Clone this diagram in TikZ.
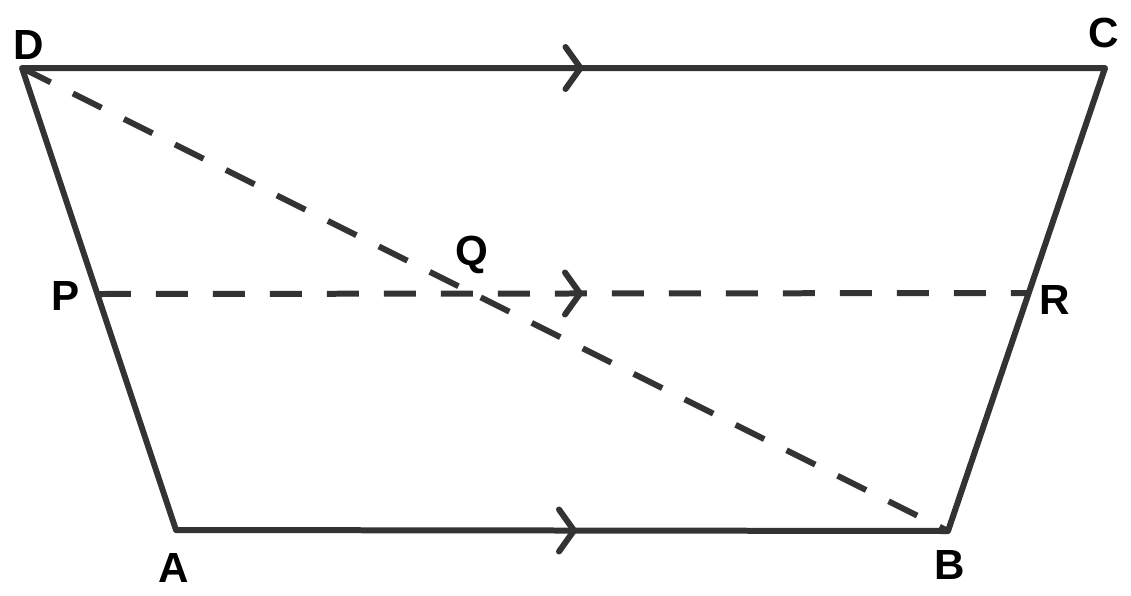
\documentclass[tikz,border=0pt]{standalone}
\usepackage{fontspec}
\setmainfont{Liberation Sans}
\usepackage{tikz}
\usetikzlibrary{calc}
\definecolor{edge}{HTML}{333333}

\begin{document}
\begin{tikzpicture}[x=0.02cm,y=-0.02cm]
\tikzstyle{every node}+=[inner sep=0pt]
\tikzstyle{side}=[edge,line width=0.12cm,line cap=round,line join=round]
\tikzstyle{dashside}=[side,line cap=butt,dash pattern=on 0.64cm off 0.5cm]
\tikzstyle{lbl}=[font=\fontsize{24}{24}\selectfont\bfseries]
\useasboundingbox (0,0) rectangle (1131,595);
% corners
\coordinate (D) at (22,68);
\coordinate (C) at (1105,68);
\coordinate (A) at (176,530);
\coordinate (B) at (948,531);
\coordinate (P) at (99,294);
\coordinate (R) at (1029,293);
% trapezium
\draw [side] (D) -- (C) -- (B) -- (A) -- cycle;
% dashed lines
\draw [dashside] (D) -- (B);
\draw [dashside] (P) -- (R);
% parallel marks
\draw [side] ($(D)!0.5!(C)+(2,-21)$) -- ($(D)!0.5!(C)+(17,0)$) -- ($(D)!0.5!(C)+(2,21)$);
\draw [side] ($(A)!0.5!(B)+(-3,-21)$) -- ($(A)!0.5!(B)+(12,0)$) -- ($(A)!0.5!(B)+(-3,21)$);
\draw [side] ($(P)!0.5!(R)+(1,-21)$) -- ($(P)!0.5!(R)+(16,0)$) -- ($(P)!0.5!(R)+(1,21)$);
% labels
\node [lbl] (labD) at (29,45) {D};
\node [lbl] (labC) at (1104,33) {C};
\node [lbl] (labP) at (66,296) {P};
\node [lbl] (labR) at (1055,300) {R};
\node [lbl] (labQ) at (472,255) {Q};
\node [lbl] (labA) at (174,568) {A};
\node [lbl] (labB) at (950,565) {B};
\end{tikzpicture}
\end{document}
